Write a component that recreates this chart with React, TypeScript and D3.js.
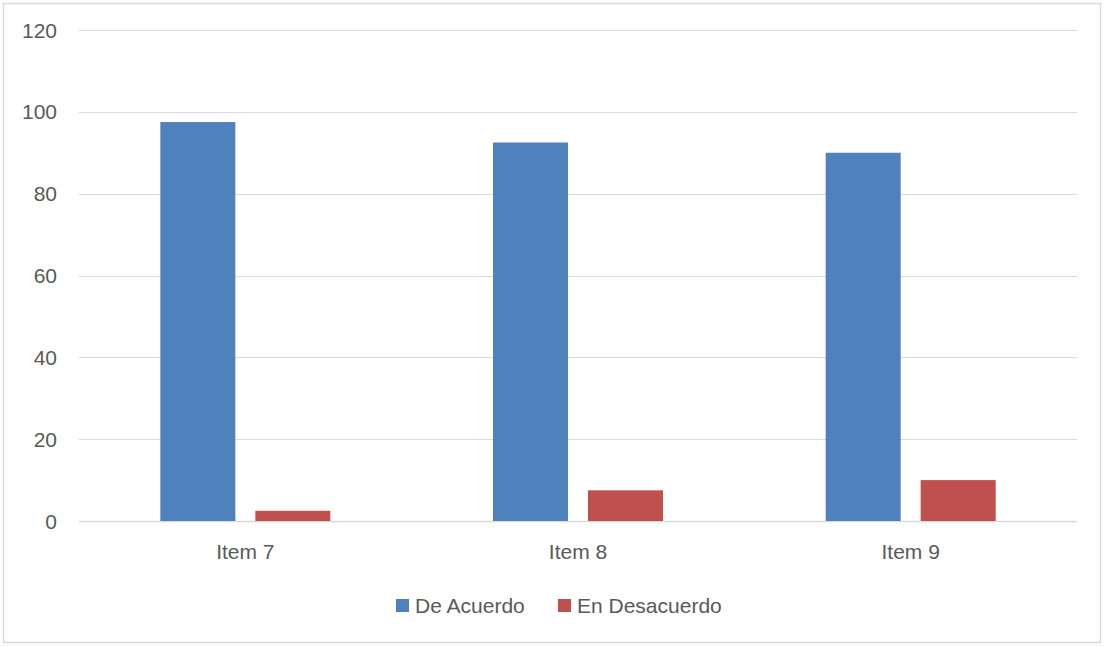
import React, { useEffect, useRef } from 'react';
import * as d3 from 'd3';

const categories = ['Item 7', 'Item 8', 'Item 9'];
const seriesNames = ['De Acuerdo', 'En Desacuerdo'];
const deAcuerdo = [97.5, 92.5, 90];
const enDesacuerdo = [2.5, 7.5, 10];
const yTicks = [0, 20, 40, 60, 80, 100, 120];
const colors = ['#4f81bd', '#c0504d'];

const W = 1104;
const H = 646;

const App: React.FC = () => {
  const svgRef = useRef<SVGSVGElement>(null);

  useEffect(() => {
    if (!svgRef.current) return;
    const svg = d3.select(svgRef.current);
    svg.selectAll('*').remove();

    const font = '"Liberation Sans", Arial, sans-serif';
    const textColor = '#595959';
    const gridColor = '#d9d9d9';

    // outer chart border
    svg.append('rect')
      .attr('x', 3.5).attr('y', 3.5)
      .attr('width', W - 7).attr('height', H - 7)
      .attr('fill', '#fff')
      .attr('stroke', gridColor)
      .attr('stroke-width', 1.5);

    const left = 79, right = 1077, top = 30, bottom = 521;

    const x = d3.scaleBand().domain(categories).range([left, right]).padding(0);
    const y = d3.scaleLinear().domain([0, 120]).range([bottom, top]);

    // gridlines
    svg.append('g')
      .selectAll('line')
      .data(yTicks)
      .join('line')
      .attr('x1', left).attr('x2', right)
      .attr('y1', d => Math.round(y(d)) + 0.5)
      .attr('y2', d => Math.round(y(d)) + 0.5)
      .attr('stroke', gridColor)
      .attr('stroke-width', d => (d === 0 ? 1.5 : 1));

    // y tick labels
    svg.append('g')
      .selectAll('text')
      .data(yTicks)
      .join('text')
      .attr('x', 57)
      .attr('y', d => y(d))
      .attr('dy', '0.36em')
      .attr('text-anchor', 'end')
      .attr('font-family', font)
      .attr('font-size', 21)
      .attr('fill', textColor)
      .text(d => d);

    const barW = 75;
    const gap = 20;
    const series = [deAcuerdo, enDesacuerdo];

    series.forEach((vals, si) => {
      svg.append('g')
        .selectAll('rect')
        .data(vals)
        .join('rect')
        .attr('x', (_, i) => {
          const c = (x(categories[i]) as number) + x.bandwidth() / 2;
          return si === 0 ? c - gap / 2 - barW : c + gap / 2;
        })
        .attr('y', d => y(d))
        .attr('width', barW)
        .attr('height', d => bottom - y(d))
        .attr('fill', colors[si]);
    });

    // x labels
    svg.append('g')
      .selectAll('text')
      .data(categories)
      .join('text')
      .attr('x', d => (x(d) as number) + x.bandwidth() / 2)
      .attr('y', 559)
      .attr('text-anchor', 'middle')
      .attr('font-family', font)
      .attr('font-size', 21)
      .attr('fill', textColor)
      .text(d => d);

    // legend
    const legendX = [396, 558];
    seriesNames.forEach((name, i) => {
      svg.append('rect')
        .attr('x', legendX[i]).attr('y', 599)
        .attr('width', 13).attr('height', 13)
        .attr('fill', colors[i]);
      svg.append('text')
        .attr('x', legendX[i] + 19)
        .attr('y', 613)
        .attr('font-family', font)
        .attr('font-size', 21)
        .attr('fill', textColor)
        .text(name);
    });
  }, []);

  return (
    <svg
      ref={svgRef}
      width={W}
      height={H}
      style={{ position: 'absolute', left: 0, top: 0, background: '#fff' }}
    />
  );
};

export default App;
